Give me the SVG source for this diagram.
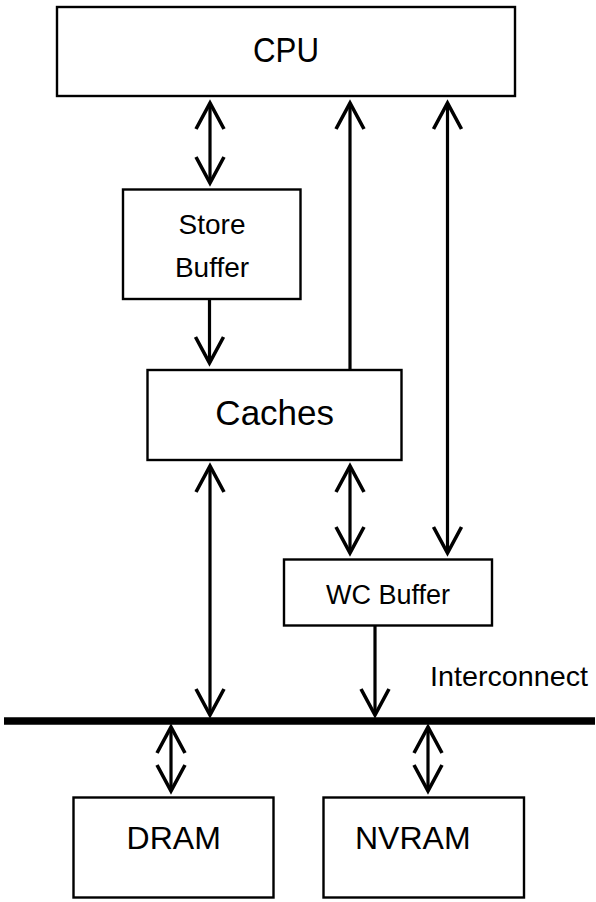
<svg xmlns="http://www.w3.org/2000/svg" width="596" height="902" viewBox="0 0 596 902">
  <style>
    .box { fill: #ffffff; stroke: #000000; stroke-width: 2.4; }
    .lbl { font-family: "Liberation Sans", Arial, sans-serif; fill: #000000; text-anchor: middle; }
    .conn { stroke: #000000; stroke-width: 3.2; fill: none; }
  </style>
  <defs>
    <marker id="chev" markerUnits="userSpaceOnUse" orient="auto-start-reverse" refX="0" refY="0" markerWidth="40" markerHeight="40" overflow="visible">
      <path d="M -26 -14 L 0 0 L -26 14" fill="none" stroke="#000000" stroke-width="3.6" stroke-linejoin="miter"/>
    </marker>
  </defs>
  <rect x="0" y="0" width="596" height="902" fill="#ffffff"/>

  <g id="cpu">
    <rect class="box" x="57" y="7" width="458" height="89"/>
    <text class="lbl" x="286" y="62" font-size="35" textLength="66" lengthAdjust="spacingAndGlyphs">CPU</text>
  </g>
  <g id="store-buffer">
    <rect class="box" x="123" y="189.5" width="177.5" height="109.5"/>
    <text class="lbl" x="212" y="234" font-size="28">Store</text>
    <text class="lbl" x="212" y="277" font-size="28">Buffer</text>
  </g>
  <g id="caches">
    <rect class="box" x="147.5" y="370" width="254" height="90"/>
    <text class="lbl" x="274.7" y="425" font-size="35">Caches</text>
  </g>
  <g id="wc-buffer">
    <rect class="box" x="284" y="559.5" width="208" height="66"/>
    <text class="lbl" x="388" y="604" font-size="27">WC Buffer</text>
  </g>
  <g id="interconnect">
    <line x1="4" y1="721" x2="595" y2="721" stroke="#000000" stroke-width="7.5"/>
    <text x="430" y="686" font-size="28" font-family="Liberation Sans, Arial, sans-serif" fill="#000000" textLength="158" lengthAdjust="spacingAndGlyphs">Interconnect</text>
  </g>
  <g id="dram">
    <rect class="box" x="73.5" y="797.5" width="200" height="100"/>
    <text class="lbl" x="173.7" y="849" font-size="32">DRAM</text>
  </g>
  <g id="nvram">
    <rect class="box" x="323.5" y="797.5" width="200.5" height="100"/>
    <text x="355" y="849" font-size="32" font-family="Liberation Sans, Arial, sans-serif" fill="#000000">NVRAM</text>
  </g>

  <g id="connectors">
    <line class="conn" x1="210" y1="103" x2="210" y2="183" marker-start="url(#chev)" marker-end="url(#chev)"/>
    <line class="conn" x1="350" y1="370" x2="350" y2="103" marker-end="url(#chev)"/>
    <line class="conn" x1="447.5" y1="103" x2="447.5" y2="553" marker-start="url(#chev)" marker-end="url(#chev)"/>
    <line class="conn" x1="209.5" y1="299" x2="209.5" y2="363" marker-end="url(#chev)"/>
    <line class="conn" x1="210" y1="466" x2="210" y2="715" marker-start="url(#chev)" marker-end="url(#chev)"/>
    <line class="conn" x1="350" y1="466" x2="350" y2="553" marker-start="url(#chev)" marker-end="url(#chev)"/>
    <line class="conn" x1="375" y1="626" x2="375" y2="715" marker-end="url(#chev)"/>
    <line class="conn" x1="171" y1="727" x2="171" y2="791" marker-start="url(#chev)" marker-end="url(#chev)"/>
    <line class="conn" x1="428" y1="727" x2="428" y2="791" marker-start="url(#chev)" marker-end="url(#chev)"/>
  </g>
</svg>
